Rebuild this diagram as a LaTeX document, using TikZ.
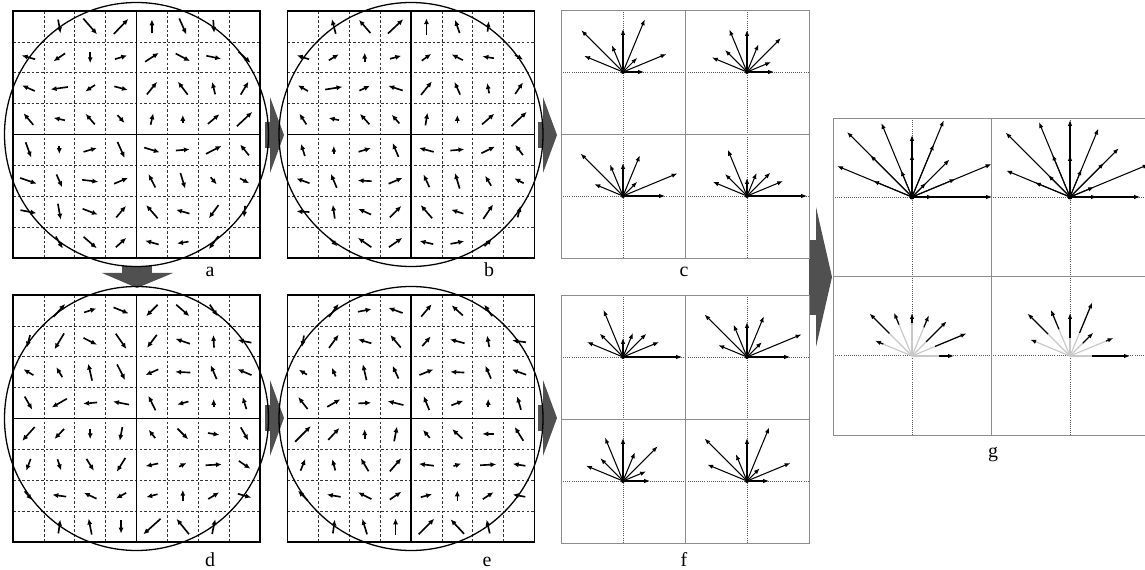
\documentclass[tikz,border=0pt]{standalone}
\usepackage{fontspec}
\setmainfont{Liberation Serif}
\usetikzlibrary{arrows.meta}

\definecolor{blockgrey}{HTML}{505050}
\definecolor{gridgrey}{HTML}{8C8C8C}
\definecolor{fadegrey}{HTML}{C8C8C8}

% histogram bins of the eight sub regions (angle 0 to 157.5)
\newcommand{\cTL}{21,47,20,57,43,29,59,42}
\newcommand{\cTR}{27,26,48,30,42,46,31,38}
\newcommand{\cBL}{42,59,20,44,33,34,60,31}
\newcommand{\cBR}{60,39,33,25,18,50,31,37}
\newcommand{\fTL}{59,39,33,26,19,51,33,39}
\newcommand{\fTR}{43,59,21,44,35,35,60,31}
\newcommand{\fBL}{27,25,49,31,43,47,32,40}
\newcommand{\fBR}{22,47,18,58,43,29,60,43}

% gradient panel: centre x, centre y, rows of angle/length
\newcommand{\gradpanel}[3]{%
  \foreach \k in {1,2,3,5,6,7} {
    \draw[cellgrid] ({#1-123.5+30.875*\k},{#2-123.5}) -- ++(0,247);
    \draw[cellgrid] ({#1-123.5},{#2-123.5+30.875*\k}) -- ++(247,0);
  }
  \draw[panelline] (#1-123.5,#2-123.5) rectangle (#1+123.5,#2+123.5);
  \draw[panelline] (#1,#2-123.5) -- (#1,#2+123.5) (#1-123.5,#2) -- (#1+123.5,#2);
  \draw[panelline] (#1,#2) circle[radius=132];
  \foreach \row [count=\ri from 0] in {#3} {
    \foreach \ang/\len [count=\ci from 0] in \row {
      \ifdim\len pt>0pt
        \draw[grad] ({#1-108.06+30.875*\ci},{#2-108.06+30.875*\ri})
          ++({-(\ang)}:{-0.58*\len}) -- ++({-(\ang)}:{1.16*\len});
      \fi
    }
  }
}

% histogram panel: left, top, cell width, cell height
\newcommand{\histpanel}[4]{%
  \draw[dotline] ({#1+#3/2},#2) -- ++(0,{2*#4}) ({#1+3*#3/2},#2) -- ++(0,{2*#4});
  \draw[dotline] (#1,{#2+#4/2}) -- ++({2*#3},0) (#1,{#2+3*#4/2}) -- ++({2*#3},0);
  \draw[histline] (#1,#2) rectangle ++({2*#3},{2*#4});
  \draw[histline] ({#1+#3},#2) -- ++(0,{2*#4}) (#1,{#2+#4}) -- ++({2*#3},0);
}

% one fan of eight bins
\newcommand{\binfan}[3]{%
  \foreach \len [count=\i from 0] in #3
    \draw[bin] (#1,#2) -- ++({-22.5*\i}:{\len});
  \fill (#1,#2) circle[radius=2];
}

% two fans stacked
\newcommand{\sumfan}[4]{%
  \foreach \i in {0,...,7} {
    \pgfmathsetmacro\lena{{#3}[\i]}
    \pgfmathsetmacro\lenb{{#4}[\i]}
    \draw[bin] (#1,#2) -- ++({-22.5*\i}:{\lena+\lenb});
    \draw[bin] (#1,#2) -- ++({-22.5*\i}:{\lena});
  }
  \fill (#1,#2) circle[radius=2.5];
}

% two fans, shared part faint
\newcommand{\difffan}[4]{%
  \foreach \i in {0,...,7} {
    \pgfmathsetmacro\lena{{#3}[\i]}
    \pgfmathsetmacro\lenb{{#4}[\i]}
    \pgfmathsetmacro\lenlo{min(\lena,\lenb)}
    \pgfmathsetmacro\lenhi{max(\lena,\lenb)}
    \draw[faint] (#1,#2) -- ++({-22.5*\i}:{\lenlo});
    \draw[bin,line width=1.1pt] (#1,#2) ++({-22.5*\i}:{\lenlo}) -- ++({-22.5*\i}:{\lenhi-\lenlo});
  }
}

% block arrow to the right: shaft start x, centre y
\newcommand{\rightblock}[2]{%
  \fill[block] (#1,#2-13) rectangle (#1+11,#2+13);
  \fill[block] (#1+5,#2-38) -- (#1+19,#2) -- (#1+5,#2+38) -- cycle;
}

\begin{document}
\begin{tikzpicture}[x=0.03cm,y=-0.03cm,
    cellgrid/.style={line width=0.55pt,black!80,dash pattern=on 2.2pt off 1.8pt},
    panelline/.style={line width=1.1pt},
    grad/.style={line width=1.4pt,-{Latex[length=5pt,width=4.4pt]}},
    histline/.style={gridgrey,line width=0.7pt},
    dotline/.style={black!65,line width=0.55pt,dash pattern=on 0.6pt off 1.2pt},
    bin/.style={line width=0.9pt,-{Latex[length=5pt,width=3.8pt]}},
    faint/.style={fadegrey,line width=1pt},
    block/.style={fill=blockgrey},
    lab/.style={anchor=base,font=\fontsize{17}{19}\selectfont}]
  \useasboundingbox (0,0) rectangle (1145,570);

  % block arrows between the panels
  \rightblock{265}{135}
  \rightblock{538}{135}
  \rightblock{265}{418}
  \rightblock{538}{418}
  \fill[block] (122,266) rectangle (152,276);
  \fill[block] (102,273) -- (173,273) -- (137,288) -- cycle;
  \fill[block] (809,240) rectangle (818,315);
  \fill[block] (816,207) -- (832,277) -- (816,347) -- cycle;

  % a
  \gradpanel{136.5}{134.5}{
    {0/0, -80/12, -49/18, 46/18, 90/12, -66/15, -86/11, 0/0},
    {164/12, 214/12, -90/10, 17/11, 33/14, -28/14, -12/13, -43/14},
    {156/12, 188/15, 214/10, -15/12, 51/14, 127/14, 104/11, 59/13},
    {130/13, 168/10, 131/12, -48/9, 77/10, 90/7, 40/13, 43/18},
    {-70/14, -90/7, 16/12, -66/15, -17/14, 5/12, 27/15, 129/12},
    {-19/15, -66/12, -7/14, 23/13, 117/13, -73/14, -50/8, -28/9},
    {-11/14, -80/14, -21/14, 50/13, 131/15, 164/12, 234/14, -95/10},
    {0/0, -60/12, -41/15, 42/12, 164/12, 189/10, 234/14, 0/0}}
  % b
  \gradpanel{411}{134.5}{
    {0/0, 105/13, 131/15, 43/18, 90/14, 109/12, 83/9, 0/0},
    {162/11, 31/10, 90/8, 15/10, 36/10, 153/11, 171/10, -30/8},
    {150/10, 9/15, 25/10, 162/13, 51/15, 114/12, 101/9, 56/12},
    {123/11, 168/9, 132/12, 131/10, 81/11, 90/7, 41/14, 43/18},
    {108/11, 90/7, 17/11, 113/13, 165/13, 5/12, 26/13, 127/11},
    {160/12, 113/13, 177/12, 23/13, 115/12, 107/14, 121/10, 152/9},
    {177/11, 98/12, 156/12, 45/14, 131/15, 162/11, 56/15, 76/10},
    {0/0, -45/9, 145/14, 35/14, 167/12, 11/12, 45/9, 0/0}}
  % d
  \gradpanel{136.5}{418.5}{
    {0/0, 48/15, 18/11, -22/14, 225/14, -41/15, -56/12, 0/0},
    {-105/11, 239/16, -27/13, -55/16, 233/14, 161/13, 93/11, 169/12},
    {149/10, 121/10, 103/15, -63/15, 204/12, 177/13, 113/13, 157/13},
    {-60/13, 210/15, 185/12, 169/14, 116/14, 195/10, 90/7, 107/11},
    {228/16, 226/12, -90/9, -101/12, 128/9, -45/13, -9/10, -60/13},
    {249/11, -72/10, -58/12, 238/14, 192/11, 27/7, 3/14, -34/12},
    {-49/10, 172/12, 155/12, 209/10, 195/10, 90/10, 31/11, -16/12},
    {0/0, 82/12, 101/14, -90/12, 222/20, 129/17, 78/13, 0/0}}
  % e
  \gradpanel{411}{418.5}{
    {0/0, 54/14, 11/12, 160/13, 50/14, 138/13, 124/12, 0/0},
    {-100/10, 54/14, 163/12, 130/14, 49/11, 165/13, 101/10, 172/12},
    {149/8, 114/8, 103/14, 115/12, 22/13, 177/12, 114/12, 160/13},
    {128/13, 30/13, 3/11, 166/14, 112/13, 21/11, 90/7, 106/12},
    {45/19, 47/14, 90/8, 79/13, 130/9, 137/12, 180/10, 122/14},
    {68/11, 105/10, 121/13, 49/15, 173/13, 19/7, 3/14, 171/11},
    {135/12, 170/12, 153/13, 34/12, 15/10, 90/9, 33/11, 170/11},
    {0/0, 82/12, 107/14, 90/14, 45/19, 133/17, 103/12, 0/0}}

  % c and f
  \histpanel{561}{10}{124}{124}
  \binfan{623}{72}{\cTL}
  \binfan{747}{72}{\cTR}
  \binfan{623}{196}{\cBL}
  \binfan{747}{196}{\cBR}
  \histpanel{561}{295}{124}{124}
  \binfan{623}{357}{\fTL}
  \binfan{747}{357}{\fTR}
  \binfan{623}{481}{\fBL}
  \binfan{747}{481}{\fBR}

  % g
  \histpanel{833}{118}{158}{158.5}
  \sumfan{912}{197}{\cTL}{\fTL}
  \sumfan{1070}{197}{\cTR}{\fTR}
  \difffan{912}{356}{\cBL}{\fBL}
  \difffan{1070}{356}{\cBR}{\fBR}

  % labels
  \node[lab] (la) at (210,277) {a};
  \node[lab] (lb) at (489,277) {b};
  \node[lab] (lc) at (684,277) {c};
  \node[lab] (ld) at (210,566) {d};
  \node[lab] (le) at (487,566) {e};
  \node[lab] (lf) at (684,566) {f};
  \node[lab] (lg) at (993,457) {g};
\end{tikzpicture}
\end{document}
